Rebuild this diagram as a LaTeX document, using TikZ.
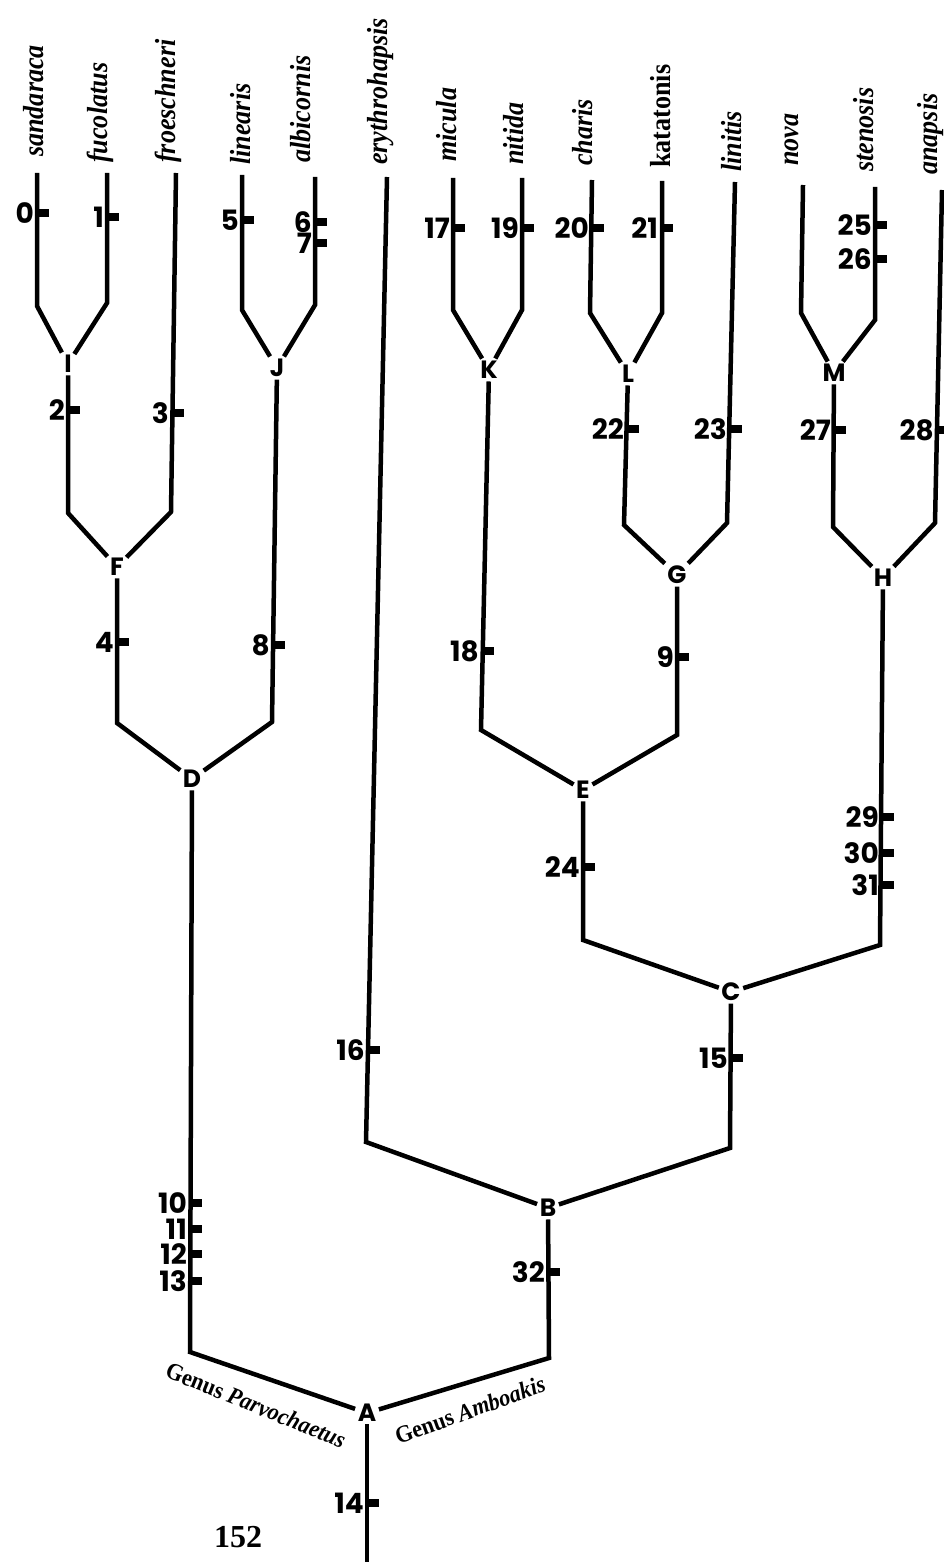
\documentclass[tikz,border=0pt]{standalone}
\usepackage{fontspec}
\setmainfont{Liberation Serif}
\newfontfamily\spfont{Liberation Serif}[FakeStretch=0.9]
\newfontfamily\gnfont{Liberation Serif}[FakeStretch=0.93]
\newfontfamily\numfont{Poppins}
\begin{document}
\begin{tikzpicture}[x=1pt,y=-1pt,
  tree/.style={line width=4.5pt, black},
  tickmark/.style={line width=7.5pt, black},
  num/.style={font=\numfont\bfseries\fontsize{28}{28}\selectfont, inner sep=0pt, anchor=east},
  clade/.style={font=\numfont\bfseries\fontsize{25}{25}\selectfont, inner sep=2.5pt},
  species/.style={font=\spfont\bfseries\itshape\fontsize{29}{29}\selectfont, rotate=90, anchor=base west, inner sep=0pt},
  genus/.style={font=\gnfont\bfseries\fontsize{24}{24}\selectfont, inner sep=0pt}]
\useasboundingbox (0,0) rectangle (943,1562);

% clade nodes
\node[clade] (I) at (68,364) {I};
\node[clade] (J) at (277,368) {J};
\node[clade] (K) at (489,370) {K};
\node[clade] (L) at (628,374) {L};
\node[clade] (M) at (834,373) {M};
\node[clade] (F) at (117,567) {F};
\node[clade] (G) at (677,575) {G};
\node[clade] (H) at (883,578) {H};
\node[clade] (D) at (192,779) {D};
\node[clade] (E) at (583,790) {E};
\node[clade] (C) at (731,992) {C};
\node[clade] (B) at (548,1208) {B};
\node[clade] (A) at (367,1413) {A};

% species tips
\coordinate (tsan) at (37,173);
\coordinate (tfuc) at (107,173);
\coordinate (tfro) at (176,173);
\coordinate (tlin) at (242,175);
\coordinate (talb) at (315,177);
\coordinate (tery) at (387,177);
\coordinate (tmic) at (453,178);
\coordinate (tnit) at (522,178);
\coordinate (tcha) at (592,180);
\coordinate (tkat) at (662,181);
\coordinate (tlnt) at (735,182);
\coordinate (tnov) at (803,185);
\coordinate (tste) at (875,187);
\coordinate (tana) at (942,190);
\coordinate (root) at (367,1562);

% corners
\coordinate (cIl) at (37,306);
\coordinate (cIr) at (107,303);
\coordinate (cFl) at (68,513);
\coordinate (cFr) at (171,512);
\coordinate (cDl) at (117,723);
\coordinate (cJl) at (242,310);
\coordinate (cJr) at (315,305);
\coordinate (cDr) at (272,722);
\coordinate (cAl) at (190,1352);
\coordinate (cKl) at (453,310);
\coordinate (cKr) at (522,310);
\coordinate (cEl) at (481,730);
\coordinate (cLl) at (590,313);
\coordinate (cLr) at (662,313);
\coordinate (cGl) at (624,525);
\coordinate (cGr) at (727,523);
\coordinate (cEr) at (677,735);
\coordinate (cCl) at (583,940);
\coordinate (cMl) at (801,313);
\coordinate (cMr) at (875,320);
\coordinate (cHl) at (833,527);
\coordinate (cHr) at (935,523);
\coordinate (cCr) at (880,945);
\coordinate (cBr) at (730,1148);
\coordinate (cBl) at (366,1142);
\coordinate (cAr) at (549,1358);

% branches
\draw[tree] (tsan) -- (cIl) -- (I);
\draw[tree] (tfuc) -- (cIr) -- (I);
\draw[tree] (I) -- (cFl) -- (F);
\draw[tree] (tfro) -- (cFr) -- (F);
\draw[tree] (F) -- (cDl) -- (D);
\draw[tree] (tlin) -- (cJl) -- (J);
\draw[tree] (talb) -- (cJr) -- (J);
\draw[tree] (J) -- (cDr) -- (D);
\draw[tree] (D) -- (cAl) -- (A);
\draw[tree] (tery) -- (cBl) -- (B);
\draw[tree] (tmic) -- (cKl) -- (K);
\draw[tree] (tnit) -- (cKr) -- (K);
\draw[tree] (K) -- (cEl) -- (E);
\draw[tree] (tcha) -- (cLl) -- (L);
\draw[tree] (tkat) -- (cLr) -- (L);
\draw[tree] (L) -- (cGl) -- (G);
\draw[tree] (tlnt) -- (cGr) -- (G);
\draw[tree] (G) -- (cEr) -- (E);
\draw[tree] (E) -- (cCl) -- (C);
\draw[tree] (tnov) -- (cMl) -- (M);
\draw[tree] (tste) -- (cMr) -- (M);
\draw[tree] (M) -- (cHl) -- (H);
\draw[tree] (tana) -- (cHr) -- (H);
\draw[tree] (H) -- (cCr) -- (C);
\draw[tree] (C) -- (cBr) -- (B);
\draw[tree] (B) -- (cAr) -- (A);
\draw[tree] (A) -- (root);

% character ticks and numbers
\foreach \n/\x/\y in {0/37/213, 1/107/217, 5/242/220, 6/315/222, 7/315/243,
  17/453/228, 19/522/228, 20/592/228, 21/661/228, 25/875/225, 26/875/259,
  2/68/410, 3/172/413, 22/627/429, 23/730/429, 27/834/430, 28/937/430,
  4/117/642, 8/273/645, 18/482/651, 9/677/657, 24/583/867,
  29/882/817, 30/882/853, 31/882/885, 16/368/1050, 15/731/1058,
  10/190/1203, 11/190/1229, 12/190/1254, 13/190/1281, 32/548/1272, 14/367/1503}{
  \draw[tickmark] (\x,\y) -- ++(12,0);
  \node[num] (n\n) at (\x-3,\y) {\n};
}

% species names
\node[species] (ssan) at (43,157) {sandaraca};
\node[species] (sfuc) at (107,163) {fucolatus};
\node[species] (sfro) at (175,163) {froeschneri};
\node[species] (slin) at (250,165) {linearis};
\node[species] (salb) at (310,163) {albicornis};
\node[species] (sery) at (387,165) {erythrohapsis};
\node[species] (smic) at (456,162) {micula};
\node[species] (snit) at (523,165) {nitida};
\node[species] (scha) at (592,166) {charis};
\node[species] (skat) at (670,168) {\upshape katatonis};
\node[species] (slnt) at (741,172) {linitis};
\node[species] (snov) at (798,166) {nova};
\node[species] (sste) at (873,172) {stenosis};
\node[species] (sana) at (937,175) {anapsis};

% genus labels and page number
\node[genus, rotate=-22] (gP) at (256,1405) {Genus \textit{Parvochaetus}};
\node[genus, rotate=20] (gA) at (470,1410) {Genus \textit{Amboakis}};
\node[font=\bfseries\fontsize{32}{32}\selectfont, inner sep=0pt] (pg) at (238,1537) {152};
\end{tikzpicture}
\end{document}
